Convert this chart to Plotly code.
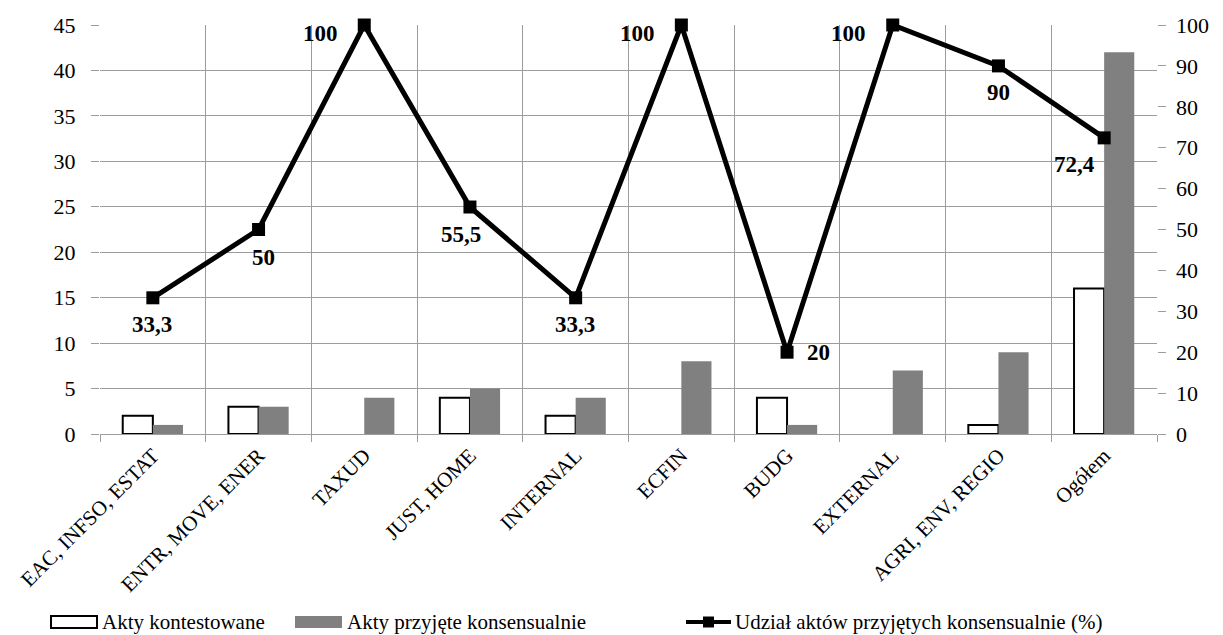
import plotly.graph_objects as go

categories = ["EAC, INFSO, ESTAT", "ENTR, MOVE, ENER", "TAXUD", "JUST, HOME", "INTERNAL",
              "ECFIN", "BUDG", "EXTERNAL", "AGRI, ENV, REGIO", "Ogółem"]
contested = [2, 3, 0, 4, 2, 0, 4, 0, 1, 16]
consensual = [1, 3, 4, 5, 4, 8, 1, 7, 9, 42]
share_pct = [33.3, 50, 100, 55.5, 33.3, 100, 20, 100, 90, 72.4]
# pixel offsets of each percentage label relative to its marker
label_shift = [(-1, -27), (5, -28), (-44, -8), (-9, -27), (-1, -27),
               (-44, -8), (31, 0), (-44, -8), (0, -27), (-30, -27)]

serif = "Liberation Serif, serif"
GRID = "#9c9c9c"
NBSP = "\u00a0"

# plot area in pixels
L, R, T, B = 100, 1157, 25, 434
W, H = 1223, 635


def fmt(v):
    return (f"{v:g}").replace(".", ",")


def px(x):
    return (x - L) / (R - L)


def py(y):
    return (B - y) / (B - T)


fig = go.Figure()
fig.add_trace(go.Bar(
    x=categories, y=contested, name="Akty kontestowane",
    marker=dict(color="white",
                line=dict(color="black", width=[2 if v > 0 else 0 for v in contested])),
))
fig.add_trace(go.Bar(
    x=categories, y=consensual, name="Akty przyjęte konsensualnie",
    marker=dict(color="#808080", line=dict(width=0)),
))
fig.add_trace(go.Scatter(
    x=categories, y=share_pct, name="Udział aktów przyjętych konsensualnie (%)",
    yaxis="y2", mode="lines+markers",
    line=dict(color="black", width=5),
    marker=dict(symbol="square", size=13, color="black"),
    cliponaxis=False,
))

annotations = []
for cat, v, (dx, dy) in zip(categories, share_pct, label_shift):
    annotations.append(dict(
        x=cat, y=v, xref="x", yref="y2", text=fmt(v), showarrow=False,
        xanchor="center", yanchor="middle", xshift=dx, yshift=dy,
        font=dict(family=serif, size=23, color="black", weight="bold"),
    ))

# legend drawn by hand: wide swatches followed by labels
shapes = []
ly = 622
shapes.append(dict(type="rect", xref="paper", yref="paper",
                   x0=px(51), x1=px(97), y0=py(ly - 6), y1=py(ly + 6),
                   fillcolor="white", line=dict(color="black", width=2)))
shapes.append(dict(type="rect", xref="paper", yref="paper",
                   x0=px(295), x1=px(342), y0=py(ly - 6), y1=py(ly + 6),
                   fillcolor="#808080", line=dict(width=0)))
shapes.append(dict(type="line", xref="paper", yref="paper",
                   x0=px(686), x1=px(731), y0=py(ly), y1=py(ly),
                   line=dict(color="black", width=4)))
shapes.append(dict(type="rect", xref="paper", yref="paper",
                   x0=px(703), x1=px(714), y0=py(ly - 5.5), y1=py(ly + 5.5),
                   fillcolor="black", line=dict(width=0)))

legend_items = [(100, "Akty kontestowane"), (345, "Akty przyjęte konsensualnie"),
                (733, "Udział aktów przyjętych konsensualnie (%)")]
for x0, txt in legend_items:
    annotations.append(dict(
        x=px(x0), y=py(ly), xref="paper", yref="paper", text=txt, showarrow=False,
        xanchor="left", yanchor="middle",
        font=dict(family=serif, size=21, color="black"),
    ))

fig.update_layout(
    width=W, height=H,
    margin=dict(l=L, r=W - R, t=T, b=H - B),
    paper_bgcolor="white", plot_bgcolor="white",
    barmode="group", bargap=0.43, bargroupgap=0,
    font=dict(family=serif, size=20, color="black"),
    showlegend=False,
    annotations=annotations,
    shapes=shapes,
    xaxis=dict(
        type="category", tickson="boundaries", tickangle=-45,
        showgrid=True, gridcolor=GRID, gridwidth=1,
        ticks="outside", ticklen=7, tickcolor=GRID,
        showline=True, linecolor=GRID,
        tickfont=dict(family=serif, size=21),
        range=[-0.5, 9.5],
    ),
    yaxis=dict(
        range=[0, 45], dtick=5, showgrid=True, gridcolor=GRID, gridwidth=1,
        ticks="outside", ticklen=8, tickcolor=GRID,
        showline=False, zeroline=False,
        tickfont=dict(family=serif, size=22),
        ticksuffix=NBSP * 2,
    ),
    yaxis2=dict(
        range=[0, 100], dtick=10, overlaying="y", side="right",
        showgrid=False, zeroline=False,
        ticks="outside", ticklen=8, tickcolor=GRID,
        showline=False,
        tickfont=dict(family=serif, size=22),
        tickprefix=NBSP,
    ),
)

fig.write_html("out.html")
